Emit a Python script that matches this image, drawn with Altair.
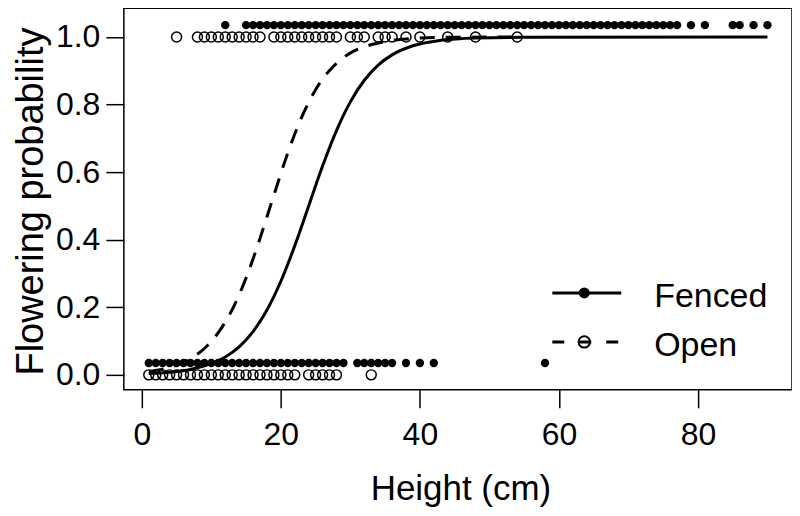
import altair as alt
import pandas as pd

FONT = "Liberation Sans"

series_names = ["Fenced", "Open"]

# Observed heights (cm) of plants that flowered (1) or not (0)
fenced_flowered_x = [12, 15, 16, 17, 18, 19, 20, 21, 22, 23, 24, 25, 26, 27, 28, 29, 30,
                     31, 32, 33, 34, 35, 36, 37, 38, 39, 40, 41, 42, 43, 44, 45, 46, 47,
                     48, 49, 50, 51, 52, 53, 54, 55, 56, 57, 58, 59, 60, 61, 62, 63, 64,
                     65, 66, 67, 68, 69, 70, 71, 72, 73, 74, 75, 76, 77, 79, 81, 85, 86,
                     88, 90]
fenced_not_x = [1, 2, 3, 4, 5, 6, 7, 8, 9, 10, 11, 12, 13, 14, 15, 16, 17, 18, 19, 20,
                21, 22, 23, 24, 25, 26, 27, 28, 29, 31, 32, 33, 34, 35, 36, 38, 40, 42, 58]
open_flowered_x = [5, 8, 9, 10, 11, 12, 13, 14, 15, 16, 17, 19, 20, 21, 22, 23, 24, 25,
                   26, 27, 28, 30, 31, 32, 34, 35, 36, 38, 40, 44, 48, 54]
open_not_x = [1, 2, 3, 4, 5, 6, 7, 8, 9, 10, 11, 12, 13, 14, 15, 16, 17, 18, 19, 20, 21,
              22, 24, 25, 26, 27, 28, 33]

# Fitted flowering probability curves
fenced_curve_x = [1, 4, 7, 10, 12, 14, 16, 18, 20, 22, 24, 26, 28, 30, 32, 34, 36, 39,
                  43, 48, 55, 90]
fenced_curve_p = [0.004, 0.008, 0.016, 0.034, 0.053, 0.083, 0.128, 0.192, 0.277, 0.382,
                  0.500, 0.618, 0.723, 0.808, 0.872, 0.917, 0.947, 0.974, 0.990, 0.997,
                  0.999, 1.000]
open_curve_x = [1, 3, 5, 7, 9, 11, 13, 15, 17, 19, 21, 23, 25, 27, 29, 31, 34, 38, 44, 54]
open_curve_p = [0.010, 0.017, 0.029, 0.048, 0.078, 0.125, 0.193, 0.287, 0.404, 0.532,
                0.657, 0.763, 0.844, 0.901, 0.939, 0.963, 0.982, 0.994, 0.999, 1.000]

x_ticks = [0, 20, 40, 60, 80]
y_ticks = [0.0, 0.2, 0.4, 0.6, 0.8, 1.0]

# ---------------------------------------------------------------------------
fenced_pts = pd.DataFrame({
    "height": fenced_flowered_x + fenced_not_x,
    "flowered": [1] * len(fenced_flowered_x) + [0] * len(fenced_not_x),
})
open_pts = pd.DataFrame({
    "height": open_flowered_x + open_not_x,
    "flowered": [1] * len(open_flowered_x) + [0] * len(open_not_x),
})
fenced_curve = pd.DataFrame({"height": fenced_curve_x, "prob": fenced_curve_p})
open_curve = pd.DataFrame({"height": open_curve_x, "prob": open_curve_p})

x_scale = alt.Scale(domain=[-2.586, 93.53], nice=False, zero=False)
y_scale = alt.Scale(domain=[-0.0443, 1.0848], nice=False, zero=False)

x_axis = alt.Axis(
    values=x_ticks, grid=False, domain=False, tickSize=18, tickWidth=1.5,
    tickColor="black", labelFont=FONT, labelFontSize=32, labelColor="black",
    labelBaseline="alphabetic", labelPadding=37, labelFlush=False,
    title="Height (cm)", titleFont=FONT, titleFontSize=35, titleFontWeight="normal",
    titleColor="black", titleX=337, titleY=110, titleBaseline="alphabetic",
    titleAlign="center",
)
y_axis = alt.Axis(
    values=y_ticks, format=".1f", grid=False, domain=False, tickSize=18, tickWidth=1.5,
    tickColor="black", labelFont=FONT, labelFontSize=32, labelColor="black",
    labelPadding=6, labelFlush=False,
    title="Flowering probability", titleFont=FONT, titleFontSize=38,
    titleFontWeight="normal", titleColor="black", titleAngle=270,
    titleX=-81, titleY=193, titleBaseline="alphabetic", titleAlign="center",
)

fenced_layer = alt.Chart(fenced_pts).transform_calculate(
    ypos="datum.flowered + 0.035"
).mark_circle(size=70, color="black", opacity=1).encode(
    x=alt.X("height:Q", scale=x_scale, axis=x_axis),
    y=alt.Y("ypos:Q", scale=y_scale, axis=y_axis),
)

open_layer = alt.Chart(open_pts).mark_point(
    shape="circle", filled=False, size=100, strokeWidth=1.5, color="black", opacity=1
).encode(
    x=alt.X("height:Q", scale=x_scale),
    y=alt.Y("flowered:Q", scale=y_scale),
)

fenced_line = alt.Chart(fenced_curve).mark_line(
    color="black", strokeWidth=3, interpolate="monotone"
).encode(
    x=alt.X("height:Q", scale=x_scale),
    y=alt.Y("prob:Q", scale=y_scale),
)

open_line = alt.Chart(open_curve).mark_line(
    color="black", strokeWidth=3, strokeDash=[15, 11], interpolate="monotone"
).encode(
    x=alt.X("height:Q", scale=x_scale),
    y=alt.Y("prob:Q", scale=y_scale),
)

# ---- legend (drawn inside the plot area) ----
one = pd.DataFrame({"k": [0]})
leg_x0, leg_x1, leg_sym, leg_txt = 429, 498, 461, 531
leg_y = [285, 334]
leg_base = [299, 348]

leg_f_line = alt.Chart(one).mark_rule(color="black", strokeWidth=3).encode(
    x=alt.value(leg_x0), x2=alt.value(leg_x1), y=alt.value(leg_y[0]))
leg_f_dot = alt.Chart(one).mark_point(
    shape="circle", filled=True, size=120, color="black", opacity=1
).encode(x=alt.value(leg_sym), y=alt.value(leg_y[0]))
leg_f_txt = alt.Chart(one).mark_text(
    align="left", baseline="alphabetic", font=FONT, fontSize=34, color="black"
).encode(x=alt.value(leg_txt), y=alt.value(leg_base[0]), text=alt.value(series_names[0]))

leg_o_line = alt.Chart(one).mark_rule(
    color="black", strokeWidth=3, strokeDash=[12, 15]
).encode(x=alt.value(leg_x0), x2=alt.value(leg_x1), y=alt.value(leg_y[1]))
leg_o_dot = alt.Chart(one).mark_point(
    shape="circle", filled=False, size=130, strokeWidth=2, color="black", opacity=1
).encode(x=alt.value(leg_sym), y=alt.value(leg_y[1]))
leg_o_txt = alt.Chart(one).mark_text(
    align="left", baseline="alphabetic", font=FONT, fontSize=34, color="black"
).encode(x=alt.value(leg_txt), y=alt.value(leg_base[1]), text=alt.value(series_names[1]))

chart = alt.layer(
    fenced_layer, open_layer, fenced_line, open_line,
    leg_f_line, leg_f_dot, leg_f_txt, leg_o_line, leg_o_dot, leg_o_txt,
).properties(
    width=669, height=382,
    autosize=alt.AutoSizeParams(type="none"),
    padding={"left": 116, "top": 0, "right": 0, "bottom": 126},
    background="white",
).configure_view(
    stroke="black", strokeWidth=1.5
)

chart.save("out.html", embed_options={"renderer": "svg", "actions": False})
